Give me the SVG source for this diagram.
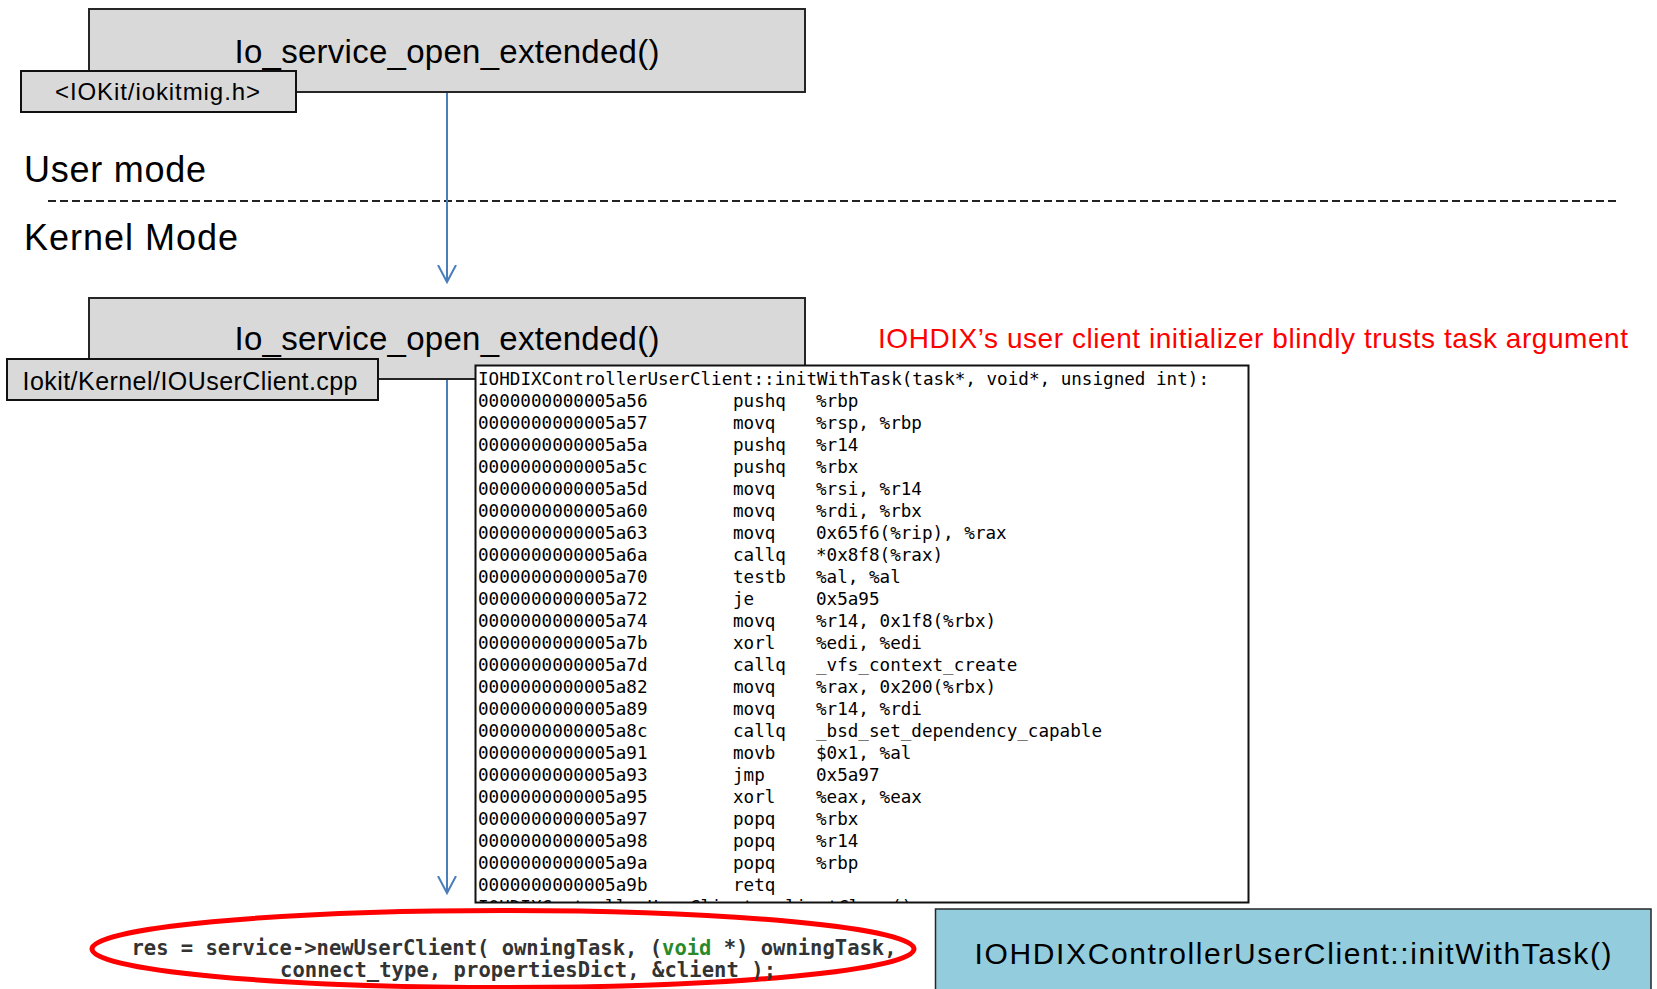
<svg xmlns="http://www.w3.org/2000/svg" width="1657" height="989" viewBox="0 0 1657 989">
<style>
.box{fill:#d9d9d9;stroke:#262626;stroke-width:2}
.lbl{fill:#d9d9d9;stroke:#111;stroke-width:2}
.t{font-family:"Liberation Sans",Arial,sans-serif;fill:#000}
.big{font-size:33px;text-anchor:middle}
.lb{font-size:25px;text-anchor:middle}
.mode{font-size:36px}
.asm{font-family:"DejaVu Sans Mono","Liberation Mono",monospace;font-size:17.6px;fill:#000}
.src{font-family:"DejaVu Sans Mono","Liberation Mono",monospace;font-size:20.5px;fill:#333;font-weight:bold}
.conn{stroke:#4a7ebb;stroke-width:2;fill:none}
</style>
<defs>
<marker id="arr" markerWidth="20" markerHeight="20" refX="17" refY="10" orient="auto" markerUnits="userSpaceOnUse">
<path d="M0,1 L17,10 L0,19" fill="none" stroke="#4a7ebb" stroke-width="2"/>
</marker>
<clipPath id="codeclip"><rect x="476" y="366" width="772" height="536"/></clipPath>
</defs>
<rect width="1657" height="989" fill="#fff"/>

<g id="mode-labels">
<text class="t mode" x="24" y="182" textLength="182">User mode</text>
<line x1="48" y1="201" x2="1617" y2="201" stroke="#222" stroke-width="2" stroke-dasharray="8 4"/>
<text class="t mode" x="24" y="250" textLength="214">Kernel Mode</text>
</g>

<g id="node-user-open">
<rect class="box" x="89" y="9" width="716" height="83"/>
<text class="t big" x="447" y="63" textLength="425">Io_service_open_extended()</text>
</g>
<g id="label-iokitmig">
<rect class="lbl" x="21" y="71" width="275" height="41"/>
<text class="t" x="157.5" y="100" font-size="24" text-anchor="middle" textLength="205">&lt;IOKit/iokitmig.h&gt;</text>
</g>

<g id="node-kernel-open">
<rect class="box" x="89" y="298" width="716" height="81"/>
<text class="t big" x="447" y="350" textLength="425">Io_service_open_extended()</text>
</g>
<g id="label-iouserclient">
<rect class="lbl" x="7" y="359" width="371" height="41"/>
<text class="t lb" x="190" y="390" textLength="335">Iokit/Kernel/IOUserClient.cpp</text>
</g>

<g id="note-red">
<text class="t" x="878" y="348" font-size="28" style="fill:#ff0000" textLength="750">IOHDIX’s user client initializer blindly trusts task argument</text>
</g>

<g id="node-disasm">
<rect x="475.5" y="365.5" width="773" height="537" fill="#fff" stroke="#111" stroke-width="2"/>
<g class="asm">
<text x="478" y="384.5" textLength="731">IOHDIXControllerUserClient::initWithTask(task*, void*, unsigned int):</text>
<text x="478" y="406.5">0000000000005a56</text><text x="733" y="406.5">pushq</text><text x="816" y="406.5">%rbp</text>
<text x="478" y="428.5">0000000000005a57</text><text x="733" y="428.5">movq</text><text x="816" y="428.5">%rsp, %rbp</text>
<text x="478" y="450.5">0000000000005a5a</text><text x="733" y="450.5">pushq</text><text x="816" y="450.5">%r14</text>
<text x="478" y="472.5">0000000000005a5c</text><text x="733" y="472.5">pushq</text><text x="816" y="472.5">%rbx</text>
<text x="478" y="494.5">0000000000005a5d</text><text x="733" y="494.5">movq</text><text x="816" y="494.5">%rsi, %r14</text>
<text x="478" y="516.5">0000000000005a60</text><text x="733" y="516.5">movq</text><text x="816" y="516.5">%rdi, %rbx</text>
<text x="478" y="538.5">0000000000005a63</text><text x="733" y="538.5">movq</text><text x="816" y="538.5">0x65f6(%rip), %rax</text>
<text x="478" y="560.5">0000000000005a6a</text><text x="733" y="560.5">callq</text><text x="816" y="560.5">*0x8f8(%rax)</text>
<text x="478" y="582.5">0000000000005a70</text><text x="733" y="582.5">testb</text><text x="816" y="582.5">%al, %al</text>
<text x="478" y="604.5">0000000000005a72</text><text x="733" y="604.5">je</text><text x="816" y="604.5">0x5a95</text>
<text x="478" y="626.5">0000000000005a74</text><text x="733" y="626.5">movq</text><text x="816" y="626.5">%r14, 0x1f8(%rbx)</text>
<text x="478" y="648.5">0000000000005a7b</text><text x="733" y="648.5">xorl</text><text x="816" y="648.5">%edi, %edi</text>
<text x="478" y="670.5">0000000000005a7d</text><text x="733" y="670.5">callq</text><text x="816" y="670.5">_vfs_context_create</text>
<text x="478" y="692.5">0000000000005a82</text><text x="733" y="692.5">movq</text><text x="816" y="692.5">%rax, 0x200(%rbx)</text>
<text x="478" y="714.5">0000000000005a89</text><text x="733" y="714.5">movq</text><text x="816" y="714.5">%r14, %rdi</text>
<text x="478" y="736.5">0000000000005a8c</text><text x="733" y="736.5">callq</text><text x="816" y="736.5">_bsd_set_dependency_capable</text>
<text x="478" y="758.5">0000000000005a91</text><text x="733" y="758.5">movb</text><text x="816" y="758.5">$0x1, %al</text>
<text x="478" y="780.5">0000000000005a93</text><text x="733" y="780.5">jmp</text><text x="816" y="780.5">0x5a97</text>
<text x="478" y="802.5">0000000000005a95</text><text x="733" y="802.5">xorl</text><text x="816" y="802.5">%eax, %eax</text>
<text x="478" y="824.5">0000000000005a97</text><text x="733" y="824.5">popq</text><text x="816" y="824.5">%rbx</text>
<text x="478" y="846.5">0000000000005a98</text><text x="733" y="846.5">popq</text><text x="816" y="846.5">%r14</text>
<text x="478" y="868.5">0000000000005a9a</text><text x="733" y="868.5">popq</text><text x="816" y="868.5">%rbp</text>
<text x="478" y="890.5">0000000000005a9b</text><text x="733" y="890.5">retq</text>
<text x="478" y="913" clip-path="url(#codeclip)">IOHDIXControllerUserClient::clientClose()</text>
</g>
</g>

<g id="node-newuserclient">
<ellipse cx="503" cy="949" rx="411" ry="38.5" fill="none" stroke="#ff0000" stroke-width="5"/>
<text class="src" x="131.5" y="955" textLength="765">res = service-&gt;newUserClient( owningTask, (<tspan fill="#2a8a2a">void</tspan> *) owningTask,</text>
<text class="src" x="280" y="977" textLength="496">connect_type, propertiesDict, &amp;client );</text>
</g>

<g id="node-initwithtask">
<rect x="935.5" y="909" width="715.5" height="90" fill="#93cddd" stroke="#262626" stroke-width="1.5"/>
<text class="t" x="1293" y="964" font-size="30" text-anchor="middle" textLength="637">IOHDIXControllerUserClient::initWithTask()</text>
</g>

<g id="connectors">
<line class="conn" x1="447" y1="93" x2="447" y2="282" marker-end="url(#arr)"/>
<line class="conn" x1="447" y1="380" x2="447" y2="893" marker-end="url(#arr)"/>
</g>
</svg>
